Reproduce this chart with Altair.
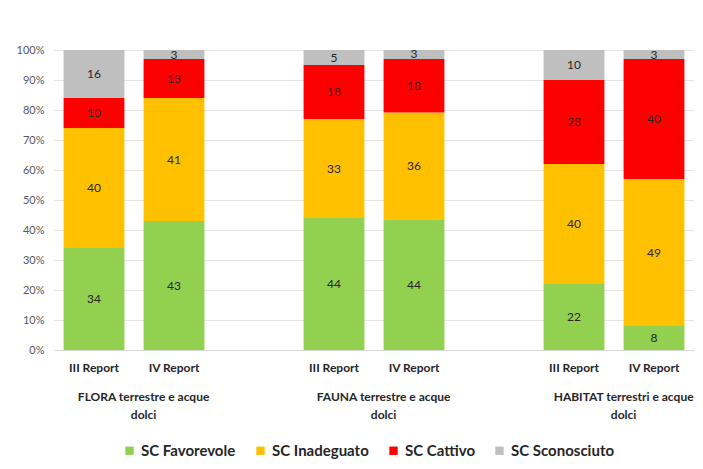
import altair as alt
import pandas as pd

groups = ["FLORA terrestre e acque dolci", "FAUNA terrestre e acque dolci", "HABITAT terrestri e acque dolci"]
group_lines = [["FLORA terrestre e acque", "dolci"], ["FAUNA terrestre e acque", "dolci"], ["HABITAT terrestri e acque", "dolci"]]
reports = ["III Report", "IV Report"]
series = ["SC Favorevole", "SC Inadeguato", "SC Cattivo", "SC Sconosciuto"]
colors = ["#92d050", "#ffc000", "#ff0000", "#bfbfbf"]
y_ticks = [0, 0.1, 0.2, 0.3, 0.4, 0.5, 0.6, 0.7, 0.8, 0.9, 1.0]

# bars in order: FLORA III, FLORA IV, FAUNA III, FAUNA IV, HABITAT III, HABITAT IV
favorevole = [34, 43, 44, 44, 22, 8]
inadeguato = [40, 41, 33, 36, 40, 49]
cattivo = [10, 13, 18, 18, 28, 40]
sconosciuto = [16, 3, 5, 3, 10, 3]

keys = ["G1|III Report", "G1|IV Report", "gap1", "G2|III Report", "G2|IV Report", "gap2", "G3|III Report", "G3|IV Report"]
bar_keys = [k for k in keys if "|" in k]

rows = []
for i, k in enumerate(bar_keys):
    for j, (s, vals) in enumerate(zip(series, [favorevole, inadeguato, cattivo, sconosciuto])):
        rows.append({"slot": k, "serie": s, "ord": j, "value": vals[i]})
df = pd.DataFrame(rows)

glabels = pd.DataFrame({"slot": ["G1|IV Report", "G2|IV Report", "G3|IV Report"], "label": group_lines})

W, H = 640, 300

xscale = alt.Scale(domain=keys, paddingInner=0.24, paddingOuter=0.12)
yscale = alt.Scale(domain=[0, 1])
xaxis = alt.Axis(labelExpr="indexof(datum.value,'|')>=0 ? split(datum.value,'|')[1] : ''",
                 labelAngle=0, ticks=False, domain=True, domainColor="#d9d9d9",
                 labelFont="Lato", labelFontWeight="bold", labelFontSize=12,
                 labelColor="#262626", labelPadding=12, title=None)
yaxis = alt.Axis(format="%", values=y_ticks, domain=False, ticks=False,
                 gridColor="#e4e4e4", labelFont="Lato", labelFontSize=11,
                 labelColor="#595959", labelPadding=10, labelOverlap=False, title=None)

base = alt.Chart(df).transform_stack(
    stack="value", groupby=["slot"], as_=["v0", "v1"], offset="normalize",
    sort=[alt.SortField("ord", order="ascending")]
)

bars = base.mark_bar().encode(
    x=alt.X("slot:N", scale=xscale, sort=keys, axis=xaxis),
    y=alt.Y("v0:Q", scale=yscale, axis=yaxis),
    y2="v1:Q",
    color=alt.Color("serie:N", scale=alt.Scale(domain=series, range=colors), sort=series,
                    legend=alt.Legend(title=None, orient="none", direction="horizontal",
                                      legendX=68, legendY=393, symbolType="square", symbolSize=70,
                                      symbolStrokeWidth=0, labelFont="Lato", labelFontWeight="bold",
                                      labelFontSize=15, labelColor="#262626", columnPadding=17,
                                      symbolOffset=0, labelOffset=4)),
    order=alt.Order("ord:Q"),
)

texts = base.transform_calculate(mid="(datum.v0 + datum.v1) / 2").mark_text(
    font="Lato", fontSize=12, color="#262626"
).encode(
    x=alt.X("slot:N", scale=xscale, sort=keys, axis=xaxis),
    y=alt.Y("mid:Q", scale=yscale, axis=yaxis),
    text="value:Q",
)

gtext = alt.Chart(glabels).mark_text(
    font="Lato", fontWeight="bold", fontSize=12, color="#262626", baseline="top", lineHeight=18
).encode(
    x=alt.X("slot:N", scale=xscale, sort=keys, bandPosition=0, axis=xaxis),
    y=alt.value(H + 42),
    text="label",
)

chart = alt.layer(bars, texts, gtext).properties(
    width=W, height=H, autosize=alt.AutoSizeParams(type="none"),
    padding={"left": 46, "top": 42, "right": 0, "bottom": 110},
).configure_view(stroke=None)

chart.save("out.html", embed_options={"renderer": "svg", "actions": False})
